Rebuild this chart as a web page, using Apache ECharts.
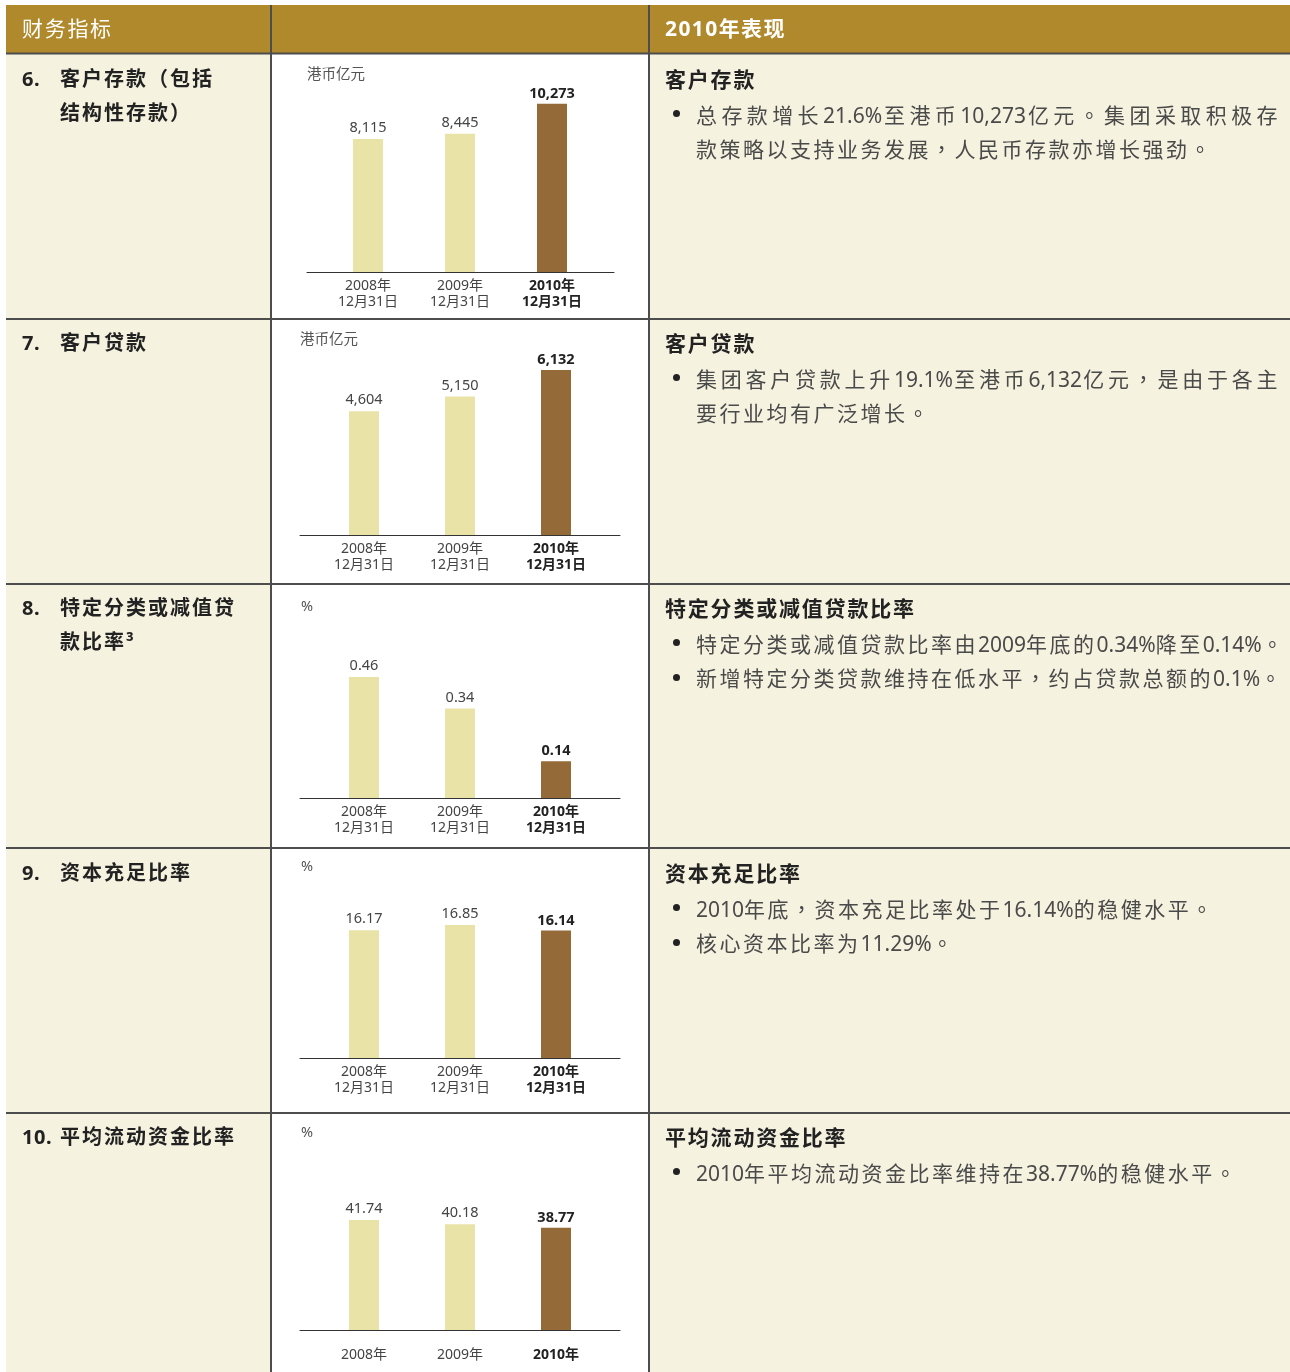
<!DOCTYPE html>
<html>
<head>
<meta charset="utf-8">
<script src="https://cdn.jsdelivr.net/npm/echarts@6/dist/echarts.min.js"></script>
<style>
  html, body { margin:0; padding:0; background:#fff; }
  #wrap { position:relative; width:1290px; height:1372px; overflow:hidden; }
  #chart { position:absolute; left:0; top:0; width:1290px; height:1372px; }
  .t { position:absolute; white-space:nowrap; font-family:"Noto Sans","Noto Sans CJK SC",sans-serif; line-height:30px; height:30px; }
  .hd { color:#fff; font-size:21px; }
  .ttl { color:#222; font-size:20px; font-weight:bold; letter-spacing:2px; }
  .rh { color:#222; font-size:21px; font-weight:bold; letter-spacing:1.8px; }
  .body { color:#4a4a4a; font-size:21px; letter-spacing:2.5px; }
  .body .lat { letter-spacing:0; }
  .body .pn { font-family:"Noto Sans CJK TC",sans-serif; }
  .just { text-align:justify; text-align-last:justify; text-justify:inter-character; }
  .dot { position:absolute; width:7px; height:7px; border-radius:50%; background:#222; }
</style>
</head>
<body>
<div id="wrap">
  <div id="chart"></div>
  <div id="txt"></div>
</div>
<script>
// ---------- data ----------
const categories = ['2008年\n12月31日', '2009年\n12月31日', '2010年\n12月31日'];
const yearCategories = ['2008年', '2009年', '2010年'];
const depositsValues = [8115, 8445, 10273];
const loansValues = [4604, 5150, 6132];
const impairedRatioValues = [0.46, 0.34, 0.14];
const capitalRatioValues = [16.17, 16.85, 16.14];
const liquidityRatioValues = [41.74, 40.18, 38.77];
const unitLabels = ['港币亿元', '港币亿元', '%', '%', '%'];

// ---------- layout (positions only) ----------
const rows = [
  { values: depositsValues, cats: categories, dec: 0, base: 272, lineL: 307, lineR: 614, c0: 368, band: 92, max: 12000, ppu: 0.01638, unitX: 307, unitY: 75, margin: 6 },
  { values: loansValues, cats: categories, dec: 0, base: 535, lineL: 300, lineR: 620, c0: 364, band: 96, max: 7000, ppu: 0.0269, unitX: 300, unitY: 340, margin: 6 },
  { values: impairedRatioValues, cats: categories, dec: 2, base: 798, lineL: 300, lineR: 620, c0: 364, band: 96, max: 0.6, ppu: 263, unitX: 301, unitY: 607, margin: 6 },
  { values: capitalRatioValues, cats: categories, dec: 2, base: 1058, lineL: 300, lineR: 620, c0: 364, band: 96, max: 20, ppu: 7.9, unitX: 301, unitY: 867, margin: 6 },
  { values: liquidityRatioValues, cats: yearCategories, dec: 2, base: 1330, lineL: 300, lineR: 620, c0: 364, band: 96, max: 50, ppu: 2.635, unitX: 301, unitY: 1133, margin: 17 }
];

const LIGHT = '#E9E3A8', DARK = '#946A39', CREAM = '#F5F2DF', GOLD = '#B0892D', RULE = '#4d4d4d';
const FONT = '"Noto Sans","Noto Sans CJK SC",sans-serif';

function fmt(v, dec) {
  return dec === 0 ? v.toLocaleString('en-US') : v.toFixed(dec);
}

const grid = [], xAxis = [], yAxis = [], series = [];
rows.forEach((r, i) => {
  const H = r.max * r.ppu;
  const top = r.base - H;
  grid.push({ left: r.c0 - r.band / 2, top: top, width: r.band * 3, height: H, containLabel: false });
  grid.push({ left: r.lineL, top: top, width: r.lineR - r.lineL, height: H, containLabel: false });
  const gb = i * 2, gl = i * 2 + 1;
  xAxis.push({
    type: 'category', gridIndex: gb, data: r.cats,
    axisLine: { show: false }, axisTick: { show: false }, splitLine: { show: false },
    axisLabel: {
      margin: r.margin, interval: 0,
      formatter: (v, idx) => v.split('\n').map(s => (idx === 2 ? '{b|' : '{n|') + s + '}').join('\n'),
      rich: {
        n: { fontSize: 14, lineHeight: 16, color: '#444', fontFamily: FONT },
        b: { fontSize: 14, lineHeight: 16, color: '#222', fontWeight: 'bold', fontFamily: FONT }
      }
    }
  });
  xAxis.push({
    type: 'value', gridIndex: gl, min: 0, max: 1,
    axisLine: { show: true, onZero: false, lineStyle: { color: '#333', width: 1 } },
    axisTick: { show: false }, axisLabel: { show: false }, splitLine: { show: false }
  });
  yAxis.push({ type: 'value', gridIndex: gb, min: 0, max: r.max, show: false, splitLine: { show: false } });
  yAxis.push({ type: 'value', gridIndex: gl, min: 0, max: 1, show: false, splitLine: { show: false } });
  series.push({
    type: 'bar', xAxisIndex: gb, yAxisIndex: gb, barWidth: 30, silent: true,
    data: r.values.map((v, idx) => ({
      value: v,
      itemStyle: { color: idx === 2 ? DARK : LIGHT },
      label: {
        show: true, position: 'top', distance: idx === 2 ? 2 : 3,
        formatter: () => fmt(v, r.dec),
        fontSize: 14.5, lineHeight: 16, fontFamily: FONT,
        color: idx === 2 ? '#222' : '#444',
        fontWeight: idx === 2 ? 'bold' : 'normal'
      }
    }))
  });
});

const graphic = [
  { type: 'rect', z: -10, shape: { x: 6, y: 5, width: 1284, height: 48 }, style: { fill: GOLD } },
  { type: 'rect', z: -10, shape: { x: 6, y: 53, width: 265, height: 1319 }, style: { fill: CREAM } },
  { type: 'rect', z: -10, shape: { x: 271, y: 53, width: 378, height: 1319 }, style: { fill: '#fff' } },
  { type: 'rect', z: -10, shape: { x: 649, y: 53, width: 641, height: 1319 }, style: { fill: CREAM } }
];
[53.5, 319, 584, 848, 1113].forEach(y => {
  graphic.push({ type: 'line', z: -5, shape: { x1: 6, y1: y, x2: 1290, y2: y }, style: { stroke: RULE, lineWidth: 2 } });
});
[271, 649].forEach(x => {
  graphic.push({ type: 'line', z: -5, shape: { x1: x, y1: 5, x2: x, y2: 1372 }, style: { stroke: RULE, lineWidth: 2 } });
});
rows.forEach((r, i) => {
  graphic.push({ type: 'text', z: 10, x: r.unitX, y: r.unitY, style: { text: unitLabels[i], fontSize: 14.5, fill: '#555', fontFamily: FONT, verticalAlign: 'middle' } });
});

const chart = echarts.init(document.getElementById('chart'), null, { renderer: 'canvas' });
chart.setOption({
  animation: false,
  backgroundColor: '#fff',
  textStyle: { fontFamily: FONT },
  grid, xAxis, yAxis, series, graphic
});

// ---------- table text ----------
const txt = document.getElementById('txt');
function add(cls, left, cy, html, width) {
  const d = document.createElement('div');
  d.className = 't ' + cls;
  d.style.left = left + 'px';
  d.style.top = (cy - 15) + 'px';
  if (width) d.style.width = width + 'px';
  d.innerHTML = html;
  txt.appendChild(d);
}
function dot(cy) {
  const d = document.createElement('div');
  d.className = 'dot';
  d.style.left = '673px';
  d.style.top = (cy - 3.5) + 'px';
  txt.appendChild(d);
}
function mark(s) {
  return s.replace(/[0-9A-Za-z.,%]+/g, m => '<span class="lat">' + m + '</span>')
          .replace(/[，。]/g, m => '<span class="pn">' + m + '</span>');
}
add('hd', 22, 28, '<span style="letter-spacing:1.7px">财务指标</span>');
add('hd', 665, 28, '<span style="font-weight:bold;letter-spacing:1.4px">2010年表现</span>');

const leftTitles = [
  { n: '6.', y: 79, lines: ['客户存款（包括', '结构性存款）'] },
  { n: '7.', y: 343, lines: ['客户贷款'] },
  { n: '8.', y: 608, lines: ['特定分类或减值贷', '款比率³'] },
  { n: '9.', y: 873, lines: ['资本充足比率'] },
  { n: '10.', y: 1137, lines: ['平均流动资金比率'] }
];
leftTitles.forEach(t => {
  add('ttl', 22, t.y, '<span style="letter-spacing:0.5px">' + t.n + '</span>');
  t.lines.forEach((l, k) => add('ttl', 60, t.y + k * 34, l));
});

const rightBlocks = [
  { y: 79, head: '客户存款', bullets: [['总存款增长21.6%至港币10,273亿元。集团采取积极存', '款策略以支持业务发展，人民币存款亦增长强劲。']] },
  { y: 343, head: '客户贷款', bullets: [['集团客户贷款上升19.1%至港币6,132亿元，是由于各主', '要行业均有广泛增长。']] },
  { y: 608, head: '特定分类或减值贷款比率', bullets: [['特定分类或减值贷款比率由2009年底的0.34%降至0.14%。'], ['新增特定分类贷款维持在低水平，约占贷款总额的0.1%。']] },
  { y: 873, head: '资本充足比率', bullets: [['2010年底，资本充足比率处于16.14%的稳健水平。'], ['核心资本比率为11.29%。']] },
  { y: 1137, head: '平均流动资金比率', bullets: [['2010年平均流动资金比率维持在38.77%的稳健水平。']] }
];
rightBlocks.forEach(b => {
  add('rh', 665, b.y, b.head);
  let k = 1;
  b.bullets.forEach(lines => {
    dot(b.y + k * 34.5);
    lines.forEach((l, j) => {
      const wrapped = j < lines.length - 1;
      add('body' + (wrapped ? ' just' : ''), 696, b.y + k * 34.5, mark(l), wrapped ? 584 : 0);
      k++;
    });
  });
});
</script>
</body>
</html>
